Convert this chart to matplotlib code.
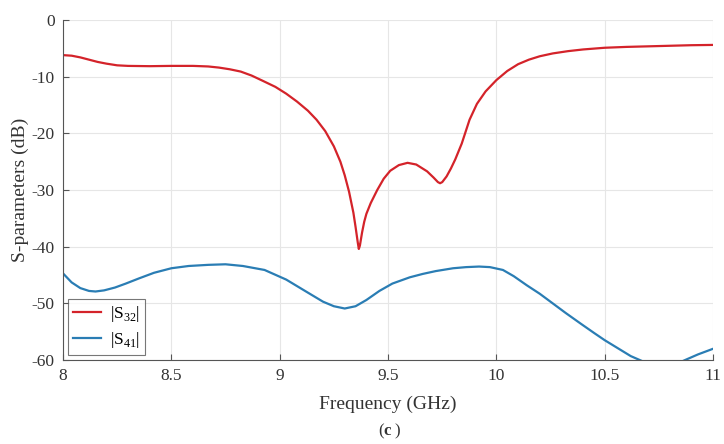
import matplotlib.pyplot as plt

plt.rcParams['font.family'] = ['Liberation Serif', 'DejaVu Serif']
plt.rcParams['mathtext.fontset'] = 'custom'
plt.rcParams['mathtext.rm'] = 'Liberation Serif'

red = '#d4232a'
blue = '#2a7db4'

# |S32|
f32 = [8.0, 8.04, 8.08, 8.12, 8.16, 8.2, 8.25, 8.3, 8.4, 8.5, 8.6, 8.67, 8.72, 8.77, 8.82,
       8.87, 8.92, 8.98, 9.03, 9.08, 9.13, 9.17, 9.21, 9.25, 9.28, 9.3, 9.32, 9.34,
       9.35, 9.36, 9.365, 9.37, 9.38, 9.39, 9.40, 9.42, 9.45, 9.48, 9.51, 9.55, 9.59,
       9.63, 9.68, 9.71, 9.73, 9.74, 9.75, 9.77, 9.79, 9.81, 9.84, 9.876, 9.91, 9.95,
       10.0, 10.05, 10.1, 10.15, 10.2, 10.26, 10.33, 10.4, 10.5, 10.6, 10.7, 10.8,
       10.9, 11.0]
s32 = [-6.2, -6.3, -6.6, -7.0, -7.4, -7.7, -8.0, -8.1, -8.15, -8.1, -8.1, -8.2, -8.4, -8.7, -9.1,
       -9.8, -10.7, -11.8, -13.0, -14.4, -16.0, -17.6, -19.6, -22.3, -25.0, -27.4, -30.3, -34.0,
       -36.5, -39.2, -40.4, -39.8, -37.5, -35.6, -34.2, -32.3, -30.0, -28.0, -26.6, -25.6, -25.2,
       -25.5, -26.7, -27.8, -28.6, -28.8, -28.6, -27.6, -26.2, -24.6, -21.8, -17.6, -14.8, -12.6,
       -10.6, -9.0, -7.8, -7.0, -6.4, -5.9, -5.5, -5.2, -4.9, -4.75, -4.65, -4.55,
       -4.45, -4.4]

# |S41|
f41 = [8.0, 8.04, 8.08, 8.12, 8.15, 8.19, 8.24, 8.29, 8.35, 8.42, 8.5, 8.58, 8.67, 8.75,
       8.83, 8.93, 9.03, 9.13, 9.2, 9.25, 9.3, 9.35, 9.4, 9.46, 9.52, 9.6, 9.66, 9.72,
       9.8, 9.86, 9.92, 9.97, 10.03, 10.08, 10.14, 10.2, 10.26, 10.32, 10.39, 10.45,
       10.5, 10.56, 10.62, 10.68, 10.74, 10.8, 10.87, 10.93, 11.0]
s41 = [-44.7, -46.3, -47.3, -47.8, -47.9, -47.7, -47.2, -46.5, -45.6, -44.6, -43.8, -43.4, -43.2, -43.1,
       -43.4, -44.1, -45.8, -48.1, -49.7, -50.5, -50.9, -50.5, -49.4, -47.8, -46.5, -45.4, -44.8, -44.3,
       -43.8, -43.6, -43.5, -43.6, -44.1, -45.2, -46.8, -48.3, -50.0, -51.7, -53.6, -55.2,
       -56.5, -57.9, -59.3, -60.3, -61.0, -61.2, -60.0, -59.0, -58.0]

fig = plt.figure(figsize=(7.24, 4.44), dpi=100)
ax = fig.add_axes([0.087, 0.189, 0.898, 0.766])

ax.plot(f32, s32, color=red, lw=1.6, label='|S$_{32}$|')
ax.plot(f41, s41, color=blue, lw=1.6, label='|S$_{41}$|')

ax.set_xlim(8, 11)
ax.set_ylim(-60, 0)
ax.set_xticks([8, 8.5, 9, 9.5, 10, 10.5, 11])
ax.set_xticklabels(['8', '8.5', '9', '9.5', '10', '10.5', '11'])
ax.set_yticks(range(-60, 1, 10))
ax.set_yticklabels(['-60', '-50', '-40', '-30', '-20', '-10', '0'])
ax.grid(True, color='#e6e6e6', lw=0.8)
ax.set_axisbelow(True)
for s in ['top', 'right']:
    ax.spines[s].set_visible(False)
for s in ['left', 'bottom']:
    ax.spines[s].set_color('#555555')
    ax.spines[s].set_linewidth(0.8)
ax.tick_params(direction='in', length=4, color='#555555', labelsize=12.5,
               labelcolor='#333333', pad=6)

ax.set_xlabel('Frequency (GHz)', fontsize=14, color='#333333', labelpad=8)
ax.set_ylabel('S-parameters (dB)', fontsize=14, color='#333333', labelpad=2)

leg = ax.legend(loc='lower left', fontsize=12.5, frameon=True, fancybox=False,
                edgecolor='#555555', borderaxespad=0.3, handlelength=1.6,
                handletextpad=0.5, borderpad=0.3, labelspacing=0.3)
leg.get_frame().set_linewidth(0.8)

fig.text(0.53, 0.02, '(', fontsize=12, color='#333333', ha='right')
fig.text(0.53, 0.02, 'c', fontsize=12, color='#333333', fontweight='bold', ha='left')
fig.text(0.5445, 0.02, ')', fontsize=12, color='#333333', ha='left')

fig.savefig('out.png', dpi=100)
